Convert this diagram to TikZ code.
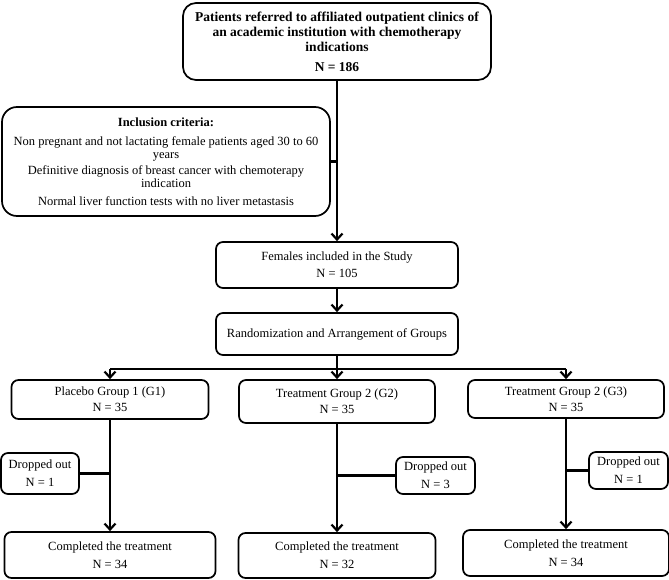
\documentclass[tikz,border=0pt]{standalone}
\usepackage{fontspec}
\setmainfont{Liberation Serif}
\usetikzlibrary{arrows.meta}
\begin{document}
\begin{tikzpicture}[x=1pt,y=-1pt,
  box/.style={draw, line width=1.7pt, rounded corners=7pt, align=center, inner sep=0pt,
    font=\fontsize{12.5}{13}\selectfont},
  bigbox/.style={box, rounded corners=13pt},
  conn/.style={line width=2.4pt},
  arr/.style={conn, -{Straight Barb[length=6pt,width=11pt,line width=2.2pt]}}
]
\useasboundingbox (0,0) rectangle (669,580);
\node[bigbox, minimum width=308, minimum height=77, font=\fontsize{13.5}{15}\selectfont\bfseries] (top) at (337,41.5)
  {Patients referred to affiliated outpatient clinics of\\an academic institution with chemotherapy\\indications\\[5pt]N = 186};
\node[bigbox, minimum width=328, minimum height=109, rounded corners=15pt] (incl) at (166,161.5)
  {\textbf{Inclusion criteria:}\\[6pt]
   Non pregnant and not lactating female patients aged 30 to 60\\years\\[3pt]
   Definitive diagnosis of breast cancer with chemoterapy\\indication\\[5pt]
   Normal liver function tests with no liver metastasis};
\node[box, minimum width=242, minimum height=46] (fem) at (337,265)
  {Females included in the Study\\[4pt]N = 105};
\node[box, minimum width=242, minimum height=42] (rand) at (337,334)
  {Randomization and Arrangement of Groups};
\node[box, minimum width=197, minimum height=39] (g1) at (110,399.5)
  {Placebo Group 1 (G1)\\[3pt]N = 35};
\node[box, minimum width=196, minimum height=43] (g2) at (337,401.5)
  {Treatment Group 2 (G2)\\[3pt]N = 35};
\node[box, minimum width=196, minimum height=38] (g3) at (566,399)
  {Treatment Group 2 (G3)\\[3pt]N = 35};
\node[box, minimum width=78, minimum height=41] (d1) at (40,473.5)
  {Dropped out\\[5pt]N = 1};
\node[box, minimum width=79, minimum height=37] (d2) at (435.5,475.5)
  {Dropped out\\[5pt]N = 3};
\node[box, minimum width=79, minimum height=37] (d3) at (628.5,470.5)
  {Dropped out\\[5pt]N = 1};
\node[box, minimum width=211, minimum height=46] (c1) at (110,555)
  {Completed the treatment\\[5pt]N = 34};
\node[box, minimum width=197, minimum height=45] (c2) at (337,555.5)
  {Completed the treatment\\[5pt]N = 32};
\node[box, minimum width=206, minimum height=46] (c3) at (566,553)
  {Completed the treatment\\[5pt]N = 34};
% connectors
\draw[arr] (top.south) -- (fem.north);
\draw[conn] (incl.east) -- (incl.east -| top.south);
\draw[arr] (fem.south) -- (rand.north);
\coordinate (split) at ([yshift=-13pt]rand.south);
\draw[conn] (rand.south) -- (split);
\draw[conn] (split -| g1.north) -- (split -| g3.north);
\draw[arr] (split -| g1.north) -- (g1.north);
\draw[arr] (split) -- (g2.north);
\draw[arr] (split -| g3.north) -- (g3.north);
\draw[arr] (g1.south) -- (c1.north);
\draw[arr] (g2.south) -- (c2.north);
\draw[arr] (g3.south) -- (c3.north);
\draw[conn] (d1.east) -- (d1.east -| g1.south);
\draw[conn] (d2.west) -- (d2.west -| g2.south);
\draw[conn] (d3.west) -- (d3.west -| g3.south);
\end{tikzpicture}
\end{document}
